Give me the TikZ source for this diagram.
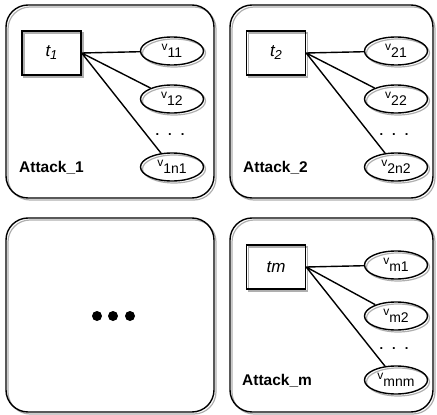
\documentclass[tikz,border=0pt]{standalone}
\usepackage{fontspec}
\setmainfont{Liberation Sans}
\usetikzlibrary{shapes.geometric}
\definecolor{shadowgray}{RGB}{175,175,175}
\newcommand{\vlab}[1]{{\fontsize{12}{12}\selectfont v}\raisebox{-7pt}{\fontsize{14}{14}\selectfont #1}}
\tikzset{
  softshadow/.style={preaction={draw=shadowgray,line width=1.2pt,transform canvas={shift={(2pt,-2pt)}}}},
  attackbox/.style={draw,line width=1.4pt,rounded corners=22pt,softshadow,inner sep=0pt},
  tbox/.style={draw,line width=1.4pt,minimum width=59pt,minimum height=44pt,softshadow,font=\fontsize{17}{17}\selectfont\itshape},
  vnode/.style={ellipse,draw,line width=1.4pt,minimum width=63pt,minimum height=28pt,inner sep=0pt,softshadow},
  attacklabel/.style={anchor=west,inner sep=0pt,font=\fontsize{15.5}{15.5}\selectfont\bfseries},
  morev/.style={inner sep=0pt,font=\fontsize{13}{13}\selectfont\bfseries},
  link/.style={line width=1.4pt}
}
\begin{document}
\begin{tikzpicture}[x=1pt,y=-1pt]
\useasboundingbox (0,0) rectangle (437,415);
% attack 1
\node [attackbox,minimum width=208pt,minimum height=193pt] (box1) at (110,101.5) {};
\node [tbox] (t1) at (51.5,53) {t\raisebox{-3pt}{\fontsize{13}{13}\selectfont 1}};
\node [vnode] (v11) at (172,51) {\vlab{11}};
\node [vnode] (v12) at (172,99) {\vlab{12}};
\node [vnode] (v1n1) at (172,167) {\vlab{1n1}};
\node [morev] (dots1) at (170,135) {.\hspace{9pt}.\hspace{9pt}.};
\node [attacklabel] (a1) at (19,168) {Attack\_1};
\draw [link] (t1.east) -- (v11) (t1.east) -- (v12) (t1.east) -- (v1n1);
% attack 2
\node [attackbox,minimum width=203pt,minimum height=193pt] (box2) at (331.5,101.5) {};
\node [tbox] (t2) at (276,53) {t\raisebox{-3pt}{\fontsize{13}{13}\selectfont 2}};
\node [vnode] (v21) at (396,51) {\vlab{21}};
\node [vnode] (v22) at (396,99) {\vlab{22}};
\node [vnode] (v2n2) at (396,167) {\vlab{2n2}};
\node [morev] (dots2) at (394,135) {.\hspace{9pt}.\hspace{9pt}.};
\node [attacklabel] (a2) at (243,168) {Attack\_2};
\draw [link] (t2.east) -- (v21) (t2.east) -- (v22) (t2.east) -- (v2n2);
% the others
\node [attackbox,minimum width=208pt,minimum height=194pt] (box3) at (110,315) {};
\foreach \x in {97,113,130} \fill (\x,316) circle (5pt);
% attack m
\node [attackbox,minimum width=203pt,minimum height=194pt] (box4) at (331.5,315) {};
\node [tbox] (tm) at (276,267) {tm};
\node [vnode] (vm1) at (396,265) {\vlab{m1}};
\node [vnode] (vm2) at (396,316) {\vlab{m2}};
\node [vnode] (vmnm) at (396,380) {\vlab{mnm}};
\node [morev] (dotsm) at (394,349) {.\hspace{9pt}.\hspace{9pt}.};
\node [attacklabel] (am) at (242,381) {Attack\_m};
\draw [link] (tm.east) -- (vm1) (tm.east) -- (vm2) (tm.east) -- (vmnm);
\end{tikzpicture}
\end{document}
